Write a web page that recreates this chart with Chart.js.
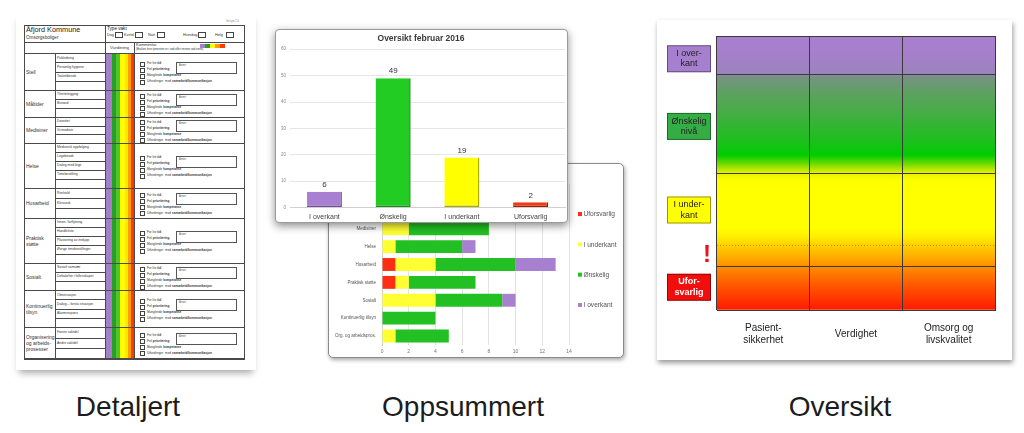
<!DOCTYPE html>
<html>
<head>
<meta charset="utf-8">
<script src="https://cdn.jsdelivr.net/npm/chart.js@4.4.1/dist/chart.umd.min.js"></script>
<style>
html, body { margin: 0; padding: 0; background: #fff; }
body { width: 1024px; height: 433px; position: relative; overflow: hidden; font-family: 'Liberation Sans', Arial, sans-serif; }
.caption { position: absolute; top: 393px; font-size: 28px; line-height: 28px; color: #1c1c1c; transform: translateX(-50%); white-space: nowrap; }
#page { position: absolute; left: 16px; top: 12px; width: 240px; height: 358px; background: #fff; box-shadow: 0 6px 7px -3px rgba(0,0,0,0.35); }
#areasFrame { position: absolute; left: 328px; top: 163px; width: 296px; height: 195px; box-sizing: border-box; border: 1px solid #8a8a8a; border-radius: 5px; background: #fff; box-shadow: 1px 2px 4px rgba(0,0,0,0.35); z-index: 1; overflow: hidden; }
#overviewFrame { position: absolute; left: 275px; top: 29px; width: 293px; height: 194px; box-sizing: border-box; border: 1px solid #9a9a9a; border-radius: 4px; background: #fff; box-shadow: 0 3px 8px rgba(0,0,0,0.45); z-index: 2; overflow: hidden; }
#levelsFrame { position: absolute; left: 657px; top: 20px; width: 355px; height: 340px; background: #fff; box-shadow: 1px 3px 5px rgba(0,0,0,0.4); }
canvas { display: block; }
</style>
</head>
<body>
<div id="page"></div>
<div id="overviewFrame"><canvas id="overview" width="291" height="192"></canvas></div>
<div id="areasFrame"><canvas id="areas" width="294" height="193"></canvas></div>
<div id="levelsFrame"><canvas id="levels" width="355" height="340"></canvas></div>
<div class="caption" style="left:128px">Detaljert</div>
<div class="caption" style="left:463px">Oppsummert</div>
<div class="caption" style="left:840px">Oversikt</div>

<script>
const family = "'Liberation Sans', Arial, sans-serif";

// Oversikt februar 2016
const overviewLabels = ['I overkant', 'Ønskelig', 'I underkant', 'Uforsvarlig'];
const overviewValues = [6, 49, 19, 2];
const overviewColors = ['#a97fd3', '#22cc22', '#ffff00', '#f03a14'];
const overviewEdges = ['#6e4f90', '#178a17', '#a8a800', '#9a2008'];

// Oppsummert per område
const areaLabels = ['Stell', 'Måltider', 'Medisiner', 'Helse', 'Husarbeid', 'Praktisk støtte', 'Sosialt', 'Kontinuerlig tilsyn', 'Org. og arbeidspros.'];
const areaUforsvarlig = [0, 0, 0, 0, 1, 1, 0, 0, 0];
const areaUnderkant = [4, 3, 2, 1, 3, 1, 4, 0, 1];
const areaOnskelig = [8, 6, 6, 5, 6, 5, 5, 4, 4];
const areaOverkant = [1, 0, 0, 1, 3, 0, 1, 0, 0];

// Oversikt (nivåer)
const qualityAreas = [['Pasient-', 'sikkerhet'], 'Verdighet', ['Omsorg og', 'livskvalitet']];
const levelNames = ['Uforsvarlig', 'I underkant', 'Ønskelig nivå', 'I overkant'];
const levelBands = [16, 34, 36, 14];
const levelLabelText = [['Ufor-', 'svarlig'], ['I under-', 'kant'], ['Ønskelig', 'nivå'], ['I over-', 'kant']];
const levelLabelAt = [8.3, 36.5, 67, 91.7];
const levelBoxColors = ['#f30e0e', '#ffff00', '#35ad45', '#a77fcf'];
const warningAt = 19.9;
const warningLine = 23.5;

// Detaljert skjema
const formRows = ['Stell', 'Måltider', 'Medisiner', 'Helse', 'Husarbeid', 'Praktisk\nstøtte', 'Sosialt', 'Kontinuerlig\ntilsyn', 'Organisering\nog arbeids-\nprosesser'];
const formRowHeights = [37, 27, 26, 45, 30, 45, 27, 37, 32];
const formSubItems = [
    ['Påkledning', 'Personlig hygiene', 'Toalettbesøk'],
    ['Tilrettelegging', 'Bistand'],
    ['Dosettet', 'Gi medisin'],
    ['Medisinsk oppfølging', 'Legebesøk', 'Dialog med lege', 'Timebestilling'],
    ['Renhold', 'Klesvask'],
    ['Innen- forflytning', 'Handleliste', 'Plassering av innkjøp', 'Øvrige timebestillinger'],
    ['Sosialt samvær', 'Deltakelse i fellesskapet'],
    ['Observasjon', 'Dialog – forstå situasjon', 'Alarmrespons'],
    ['Første vaktdel', 'Andre vaktdel']
];
const vurderingColors = ['#a67fca', '#28a028', '#4cc62a', '#ffff00', '#ffe800', '#ff9c00', '#ff3a00'];
const vurderingWidths = [7, 4, 4, 5, 3, 3, 3];
const checkTexts = ['For lite <b>tid</b>', 'Feil <b>prioritering</b>', 'Manglende <b>kompetanse</b>', 'Utfordringer &nbsp;med <b>samarbeid/kommunikasjon</b>'];
const shiftTypes = [['Dag', 107, 115], ['Kveld', 124, 135], ['Natt', 148, 157], ['Hverdag', 183, 198], ['Helg', 215, 226]];

// ---------- skjema ----------
function put(css, html) {
    const d = document.createElement('div');
    d.style.cssText = 'position:absolute;' + css;
    if (html !== undefined) d.innerHTML = html;
    document.body.appendChild(d);
    return d;
}
function line(x, y, w, h) {
    put(`left:${x}px;top:${y}px;width:${w}px;height:${h}px;background:#4a4a4a;`);
}
function label(x, y, w, h, size, html, extra) {
    put(`left:${x}px;top:${y}px;width:${w}px;height:${h}px;display:flex;align-items:center;font-size:${size}px;line-height:1.2;color:#333;white-space:pre;${extra || ''}`, html);
}

let sx = 105;
vurderingColors.forEach((c, i) => {
    put(`left:${sx}px;top:53px;width:${vurderingWidths[i]}px;height:306px;background:${c};`);
    sx += vurderingWidths[i];
});
put('left:24px;top:25px;width:221px;height:334px;border:1px solid #4a4a4a;box-sizing:border-box;');
line(24, 42, 221, 1);
line(24, 53, 221, 1);
line(105, 25, 1, 334);
line(134, 42, 1, 317);
line(55, 53, 1, 306);

label(26, 26, 78, 9, 7.3, 'Åfjord Kommune', 'color:#222;');
label(26, 35, 78, 6, 4.6, 'Omsorgsboliger');
label(226, 19, 20, 5, 2.6, 'Versjon 2.6', 'color:#888;');
label(107, 26, 40, 6, 4.6, 'Type vakt', 'color:#222;');
shiftTypes.forEach(([t, tx, bx]) => {
    label(tx, 32, 20, 6, 3.8, t);
    put(`left:${bx}px;top:32px;width:8px;height:6px;border:0.7px solid #444;box-sizing:border-box;`);
});
label(105, 43, 29, 10, 4.4, 'Vurdering', 'justify-content:center;');
label(136, 43, 60, 5, 4, 'Kommentar');
label(136, 47, 105, 5, 2.9, '(Brukes hvis tjenesten er i rød eller nesten rød sone)');
['#a67fca', '#28a028', '#ffff00', '#ff9c00', '#ff3a00'].forEach((c, i) => {
    put(`left:${200 + i * 5}px;top:44px;width:5px;height:4px;background:${c};`);
});

let ry = 53;
formRows.forEach((name, i) => {
    const h = formRowHeights[i];
    label(26, ry, 29, h, 5, name);
    const subs = formSubItems[i];
    const sh = h / (subs.length + 1);
    subs.forEach((s, j) => {
        label(57, ry + j * sh, 48, sh, 3.4, s);
        line(55, ry + (j + 1) * sh, 50, 0.6);
    });
    const by = ry + h / 2 - 10;
    checkTexts.forEach((t, k) => {
        put(`left:140px;top:${by + k * 6}px;width:5px;height:5px;border:0.6px solid #444;box-sizing:border-box;`);
        label(147, by + k * 6, 90, 5, 3.1, t);
    });
    put(`left:176px;top:${by}px;width:61px;height:12px;border:0.6px solid #555;box-sizing:border-box;font-size:2.6px;color:#555;padding:1px 0 0 2px;`, 'Annet:');
    ry += h;
    line(24, ry, 221, 1);
});

// ---------- diagrammer ----------
const valueLabels = {
    id: 'valueLabels',
    afterDatasetsDraw(chart) {
        const {ctx} = chart;
        const meta = chart.getDatasetMeta(0);
        ctx.save();
        ctx.font = '8px ' + family;
        ctx.fillStyle = '#333';
        ctx.textAlign = 'center';
        ctx.textBaseline = 'bottom';
        meta.data.forEach((bar, i) => ctx.fillText(chart.data.datasets[0].data[i], bar.x, bar.y - 3));
        ctx.restore();
    }
};

const sideLegend = {
    id: 'sideLegend',
    afterDraw(chart, args, opts) {
        const {ctx, chartArea} = chart;
        const n = chart.data.datasets.length;
        const mid = chart.height / 2 - 1;
        ctx.save();
        ctx.font = '6.6px ' + family;
        ctx.textBaseline = 'middle';
        chart.data.datasets.forEach((ds, i) => {
            const y = mid + (i - (n - 1) / 2) * opts.spacing;
            const x = chartArea.right + opts.offset;
            ctx.fillStyle = ds.backgroundColor;
            ctx.fillRect(x, y - 2, 4, 4);
            ctx.fillStyle = '#555';
            ctx.fillText(ds.label, x + 5.5, y + 0.5);
        });
        ctx.restore();
    }
};

const levelBoxes = {
    id: 'levelBoxes',
    afterDraw(chart) {
        const {ctx, chartArea} = chart;
        const y = chart.scales.y;
        const x = chartArea.left - 50;
        ctx.save();
        ctx.textAlign = 'center';
        ctx.textBaseline = 'middle';
        levelLabelText.forEach((lines, i) => {
            const cy = y.getPixelForValue(levelLabelAt[i]);
            ctx.fillStyle = levelBoxColors[i];
            ctx.fillRect(x, cy - 13.5, 44, 27);
            ctx.strokeStyle = 'rgba(0,0,0,0.4)';
            ctx.lineWidth = 1;
            ctx.strokeRect(x + 0.5, cy - 13, 43, 26);
            const last = i === 0;
            ctx.font = (last ? 'bold ' : '') + '9px ' + family;
            ctx.fillStyle = last ? '#fff' : '#222';
            lines.forEach((t, k) => ctx.fillText(t, x + 22, cy + (k - 0.5) * 10.5));
        });
        ctx.font = 'bold 24px ' + family;
        ctx.fillStyle = '#e8141c';
        ctx.fillText('!', chartArea.left - 10, y.getPixelForValue(warningAt));
        ctx.restore();
    }
};

const gradientStops = [
    [0.0, '#ff1a00'], [0.08, '#ff5000'], [0.16, '#ff8e00'], [0.2, '#ffb200'],
    [0.235, '#ffcf00'], [0.27, '#fff000'], [0.3, '#ffff00'], [0.47, '#ffff00'],
    [0.5, '#e8f000'], [0.53, '#7cdc00'], [0.565, '#00cc00'], [0.62, '#1ebf1e'],
    [0.72, '#45ad45'], [0.8, '#60a064'], [0.855, '#7a8f88'], [0.857, '#9a84ba'],
    [0.93, '#a67fcc'], [1.0, '#a97fd0']
];
let levelGradient = null;
let gradientKey = '';
function gradientFill(c) {
    const {ctx, chartArea} = c.chart;
    if (!chartArea) return null;
    const key = chartArea.top + ':' + chartArea.bottom;
    if (!levelGradient || gradientKey !== key) {
        levelGradient = ctx.createLinearGradient(0, chartArea.bottom, 0, chartArea.top);
        gradientStops.forEach(([p, col]) => levelGradient.addColorStop(p, col));
        gradientKey = key;
    }
    return levelGradient;
}

const levelEdges = [0];
levelBands.forEach(b => levelEdges.push(levelEdges[levelEdges.length - 1] + b));

new Chart(document.getElementById('overview'), {
    type: 'bar',
    data: {
        labels: overviewLabels,
        datasets: [{
            data: overviewValues,
            backgroundColor: overviewColors,
            borderColor: overviewEdges,
            borderWidth: {top: 0, left: 0, right: 1.5, bottom: 1.5},
            borderSkipped: false,
            barPercentage: 0.51,
            categoryPercentage: 1
        }]
    },
    options: {
        responsive: false,
        animation: false,
        layout: {padding: {left: 1, right: 2, top: 0, bottom: -4}},
        plugins: {
            legend: {display: false},
            tooltip: {enabled: false},
            title: {
                display: true,
                text: 'Oversikt februar 2016',
                color: '#3a3a3a',
                font: {size: 8.5, weight: 'bold', family: family},
                padding: {top: 4, bottom: 5}
            }
        },
        scales: {
            x: {
                grid: {display: false, drawTicks: false},
                border: {color: '#cfcfcf'},
                ticks: {font: {size: 7, family: family}, color: '#444', padding: 5}
            },
            y: {
                min: 0,
                max: 60,
                ticks: {stepSize: 10, font: {size: 4.5, family: family}, color: '#888', padding: 4},
                grid: {color: '#e6e6e6', drawTicks: false},
                border: {display: false}
            }
        }
    },
    plugins: [valueLabels]
});

new Chart(document.getElementById('areas'), {
    type: 'bar',
    data: {
        labels: areaLabels,
        datasets: [
            {label: 'Uforsvarlig', data: areaUforsvarlig, backgroundColor: '#ff2d14'},
            {label: 'I underkant', data: areaUnderkant, backgroundColor: '#ffff33'},
            {label: 'Ønskelig', data: areaOnskelig, backgroundColor: '#22c023'},
            {label: 'I overkant', data: areaOverkant, backgroundColor: '#a780cf'}
        ]
    },
    options: {
        indexAxis: 'y',
        responsive: false,
        animation: false,
        datasets: {bar: {barPercentage: 0.72, categoryPercentage: 1}},
        layout: {padding: {left: 0, right: 54, top: 20, bottom: -2}},
        plugins: {
            legend: {display: false},
            tooltip: {enabled: false},
            sideLegend: {offset: 9, spacing: 30.3}
        },
        scales: {
            x: {
                stacked: true,
                min: 0,
                max: 14,
                ticks: {stepSize: 2, font: {size: 5, family: family}, color: '#777', padding: 4},
                grid: {color: '#e2e2e2', drawTicks: false},
                border: {display: false}
            },
            y: {
                stacked: true,
                ticks: {font: {size: 4.5, family: family}, color: '#555', padding: 6},
                grid: {display: false, drawTicks: false},
                border: {color: '#d0d0d0'}
            }
        }
    },
    plugins: [sideLegend]
});

new Chart(document.getElementById('levels'), {
    type: 'bar',
    data: {
        labels: qualityAreas,
        datasets: levelNames.map((n, i) => ({
            label: n,
            data: qualityAreas.map(() => levelBands[i]),
            backgroundColor: gradientFill,
            borderWidth: 0,
            barPercentage: 1,
            categoryPercentage: 1
        }))
    },
    options: {
        responsive: false,
        animation: false,
        layout: {padding: {left: 60, right: 17, top: 16, bottom: -10}},
        plugins: {legend: {display: false}, tooltip: {enabled: false}},
        scales: {
            x: {
                stacked: true,
                ticks: {font: {size: 10, family: family}, color: '#222', padding: 18, crossAlign: 'center'},
                grid: {color: '#3a3a3a', drawTicks: false, offset: true, z: 1},
                border: {color: '#3a3a3a', z: 1}
            },
            y: {
                stacked: true,
                min: 0,
                max: 100,
                afterBuildTicks: s => { s.ticks = levelEdges.map(v => ({value: v})); },
                ticks: {display: false},
                grid: {color: '#3a3a3a', drawTicks: false, z: 1},
                border: {display: false}
            },
            y2: {
                position: 'left',
                min: 0,
                max: 100,
                afterBuildTicks: s => { s.ticks = [{value: warningLine}]; },
                ticks: {display: false},
                grid: {color: 'rgba(140,100,0,0.55)', drawTicks: false, z: 1},
                border: {display: false, dash: [1, 2]}
            }
        }
    },
    plugins: [levelBoxes]
});
</script>
</body>
</html>
